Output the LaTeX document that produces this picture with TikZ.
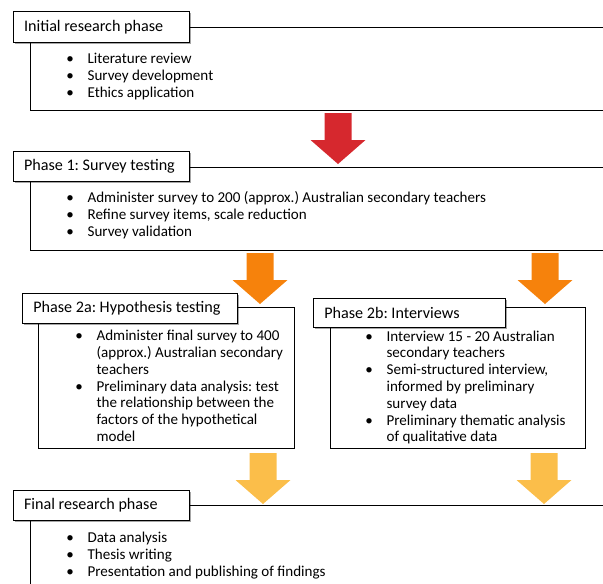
\documentclass[tikz,border=0pt]{standalone}
\usepackage{fontspec}
\setmainfont{Carlito}
\usetikzlibrary{shadows}
\definecolor{redA}{RGB}{214,40,46}
\definecolor{orangeA}{RGB}{246,130,12}
\definecolor{yellowA}{RGB}{251,190,74}
\newcommand\bitem[1]{\makebox[16pt][l]{\textbullet}#1}
\newcommand\citem[1]{\hspace*{16pt}#1}
\newcommand\ttl[2]{\makebox[#1][l]{#2}}
\tikzset{
  phasebox/.style={draw=black, line width=1pt, inner sep=0pt, anchor=north west},
  titlebox/.style={draw=black, fill=white, line width=1pt, anchor=north west,
    inner xsep=8pt, inner ysep=0pt,
    font=\fontsize{12.1}{14}\selectfont\frenchspacing,
    drop shadow={shadow xshift=1.3pt, shadow yshift=-1.3pt, opacity=0.35, fill=black}},
  listtext/.style={anchor=west, inner sep=0pt, align=left,
    font=\fontsize{11.3}{12.6}\selectfont\frenchspacing},
  barrow/.pic={\fill[#1] (-13.5,0) -- (13.5,0) -- (13.5,27) -- (27.5,27) -- (0,51)
    -- (-27.5,27) -- (-13.5,27) -- cycle;}
}
\begin{document}
\begin{tikzpicture}[x=0.75pt,y=-0.75pt]
\useasboundingbox (0,0) rectangle (603,583);
\clip (0,0) rectangle (603,583);
% main boxes
\node[phasebox, minimum width=442.5pt, minimum height=62.25pt] (b0) at (30,27) {};
\node[phasebox, minimum width=442.5pt, minimum height=62.25pt] (b1) at (30,167) {};
\node[phasebox, minimum width=192pt, minimum height=105.75pt] (b2a) at (38,307) {};
\node[phasebox, minimum width=191.25pt, minimum height=105.75pt] (b2b) at (330,307) {};
\node[phasebox, minimum width=442.5pt, minimum height=90pt] (bf) at (30,505) {};
% block arrows
\pic at (338,113) {barrow=redA};
\pic at (260,253) {barrow=orangeA};
\pic at (545,253) {barrow=orangeA};
\pic at (263,453) {barrow=yellowA};
\pic at (544,453) {barrow=yellowA};
% lists
\node[listtext] (l0) at (66,76.5) {\bitem{Literature review}\\ \bitem{Survey development}\\ \bitem{Ethics application}};
\node[listtext] (l1) at (66,215) {\bitem{Administer survey to 200 (approx.) Australian secondary teachers}\\ \bitem{Refine survey items, scale reduction}\\ \bitem{Survey validation}};
\node[listtext] (l2a) at (75,386) {\bitem{Administer final survey to 400}\\ \citem{(approx.) Australian secondary}\\ \citem{teachers}\\ \bitem{Preliminary data analysis: test}\\ \citem{the relationship between the}\\ \citem{factors of the hypothetical}\\ \citem{model}};
\node[listtext] (l2b) at (365,387.5) {\bitem{Interview 15 - 20 Australian}\\ \citem{secondary teachers}\\ \bitem{Semi-structured interview,}\\ \citem{informed by preliminary}\\ \citem{survey data}\\ \bitem{Preliminary thematic analysis}\\ \citem{of qualitative data}};
\node[listtext] (lf) at (66,555.5) {\bitem{Data analysis}\\ \bitem{Thesis writing}\\ \bitem{Presentation and publishing of findings}};
% title boxes
\node[titlebox, minimum width=132pt, minimum height=23.25pt] (t0) at (12.7,11) {\ttl{116pt}{Initial research phase}};
\node[titlebox, minimum width=132pt, minimum height=22.5pt] (t1) at (12.7,151) {\ttl{116pt}{Phase 1: Survey testing}};
\node[titlebox, minimum width=161.25pt, minimum height=22.5pt] (t2a) at (22,293) {\ttl{145.25pt}{Phase 2a: Hypothesis testing}};
\node[titlebox, minimum width=144pt, minimum height=21.75pt] (t2b) at (313,298) {\ttl{128pt}{Phase 2b: Interviews}};
\node[titlebox, minimum width=132pt, minimum height=22.5pt] (tf) at (12.7,490) {\ttl{116pt}{Final research phase}};
\end{tikzpicture}
\end{document}
